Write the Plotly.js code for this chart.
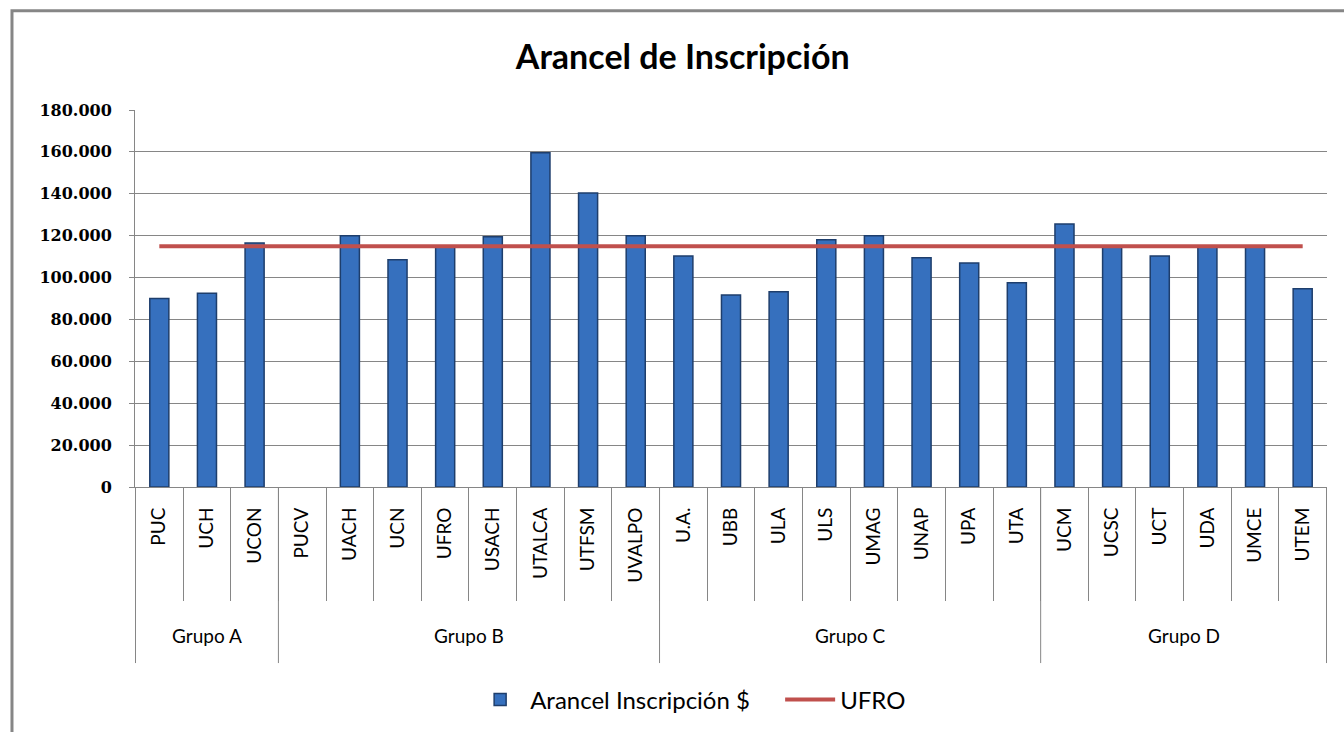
<!DOCTYPE html>
<html>
<head>
<meta charset="utf-8">
<script src="https://cdn.plot.ly/plotly-3.0.1.min.js"></script>
<style>html,body{margin:0;padding:0;background:#fff;}#chart{width:1344px;height:732px;}</style>
</head>
<body>
<div id="chart"></div>
<script>
const groups = ["Grupo A","Grupo A","Grupo A",
  "Grupo B","Grupo B","Grupo B","Grupo B","Grupo B","Grupo B","Grupo B","Grupo B",
  "Grupo C","Grupo C","Grupo C","Grupo C","Grupo C","Grupo C","Grupo C","Grupo C",
  "Grupo D","Grupo D","Grupo D","Grupo D","Grupo D","Grupo D"];
const categories = ["PUC","UCH","UCON",
  "PUCV","UACH","UCN","UFRO","USACH","UTALCA","UTFSM","UVALPO",
  "U.A.","UBB","ULA","ULS","UMAG","UNAP","UPA","UTA",
  "UCM","UCSC","UCT","UDA","UMCE","UTEM"];
const arancel = [90000,92500,116500,
  null,120000,108500,114500,119500,159600,140400,120000,
  110300,91700,93200,118000,120000,109400,107000,97500,
  125600,114500,110300,114800,114800,94600];
const ufro = [115000,115000,115000,
  115000,115000,115000,115000,115000,115000,115000,115000,
  115000,115000,115000,115000,115000,115000,115000,115000,
  115000,115000,115000,115000,115000,115000];
const yTicks = [0,20000,40000,60000,80000,100000,120000,140000,160000,180000];

const gray = '#868686';
const catFont = 'Lato, "Open Sans", sans-serif';

// group spans derived from the groups array
const groupSpans = [];
groups.forEach((g, i) => {
  const last = groupSpans[groupSpans.length - 1];
  if (last && last.name === g) last.end = i;
  else groupSpans.push({name: g, start: i, end: i});
});

const annotations = groupSpans.map(s => ({
  xref: 'x', yref: 'paper',
  x: (s.start + s.end) / 2, y: -0.3926,
  text: s.name, showarrow: false,
  xanchor: 'center', yanchor: 'middle',
  font: {family: catFont, size: 19, color: '#000'}
}));

const shapes = [];
groupSpans.forEach((s, k) => {
  if (k === 0) shapes.push({type: 'line', xref: 'x', yref: 'paper',
    x0: s.start - 0.5, x1: s.start - 0.5, y0: 0, y1: -0.467,
    line: {color: gray, width: 1}});
  shapes.push({type: 'line', xref: 'x', yref: 'paper',
    x0: s.end + 0.5, x1: s.end + 0.5, y0: 0, y1: -0.467,
    line: {color: gray, width: 1}});
});
shapes.push({type: 'rect', xref: 'paper', yref: 'paper',
  x0: -0.1032, x1: 1.05, y0: -0.7, y1: 1.263,
  line: {color: gray, width: 3}, fillcolor: 'rgba(0,0,0,0)', layer: 'below'});

const traces = [
  {
    type: 'bar',
    name: 'Arancel Inscripción $',
    x: categories,
    y: arancel,
    marker: {color: '#3670BE', line: {color: '#1E3E6C', width: 1.5}},
    hoverinfo: 'skip'
  },
  {
    type: 'scatter',
    mode: 'lines',
    name: 'UFRO',
    x: categories,
    y: ufro,
    line: {color: '#C0504D', width: 4},
    hoverinfo: 'skip'
  }
];

const layout = {
  width: 1344, height: 732,
  paper_bgcolor: '#fff', plot_bgcolor: '#fff',
  separators: ',.',
  margin: {l: 135, r: 17, t: 110, b: 245},
  title: {
    text: 'Arancel de Inscripción',
    font: {family: 'Lato, "Open Sans", sans-serif', size: 34, color: '#000', weight: 'bold'},
    x: 0.508, xanchor: 'center', y: 0.922, yanchor: 'middle'
  },
  bargap: 0.6,
  showlegend: true,
  legend: {
    orientation: 'h', xref: 'container', x: 0.3498, xanchor: 'left',
    yref: 'container', y: 0.0437, yanchor: 'middle',
    font: {family: 'Lato, "Open Sans", sans-serif', size: 24, color: '#000'},
    itemwidth: 50, entrywidth: 245, entrywidthmode: 'pixels'
  },
  xaxis: {
    type: 'category',
    tickangle: -90,
    tickfont: {family: catFont, size: 19, color: '#000'},
    ticklabelstandoff: 12,
    showline: true, linecolor: gray, linewidth: 1,
    ticks: 'outside', tickson: 'boundaries', ticklen: 113, tickcolor: gray, tickwidth: 1,
    showgrid: false, zeroline: false
  },
  yaxis: {
    range: [0, 180000],
    tickvals: yTicks,
    tickformat: ',d',
    tickfont: {family: '"DejaVu Serif", serif', size: 16, color: '#000', weight: 'bold'},
    ticklabelstandoff: 14,
    showgrid: true, gridcolor: gray, gridwidth: 1,
    showline: true, linecolor: gray, linewidth: 1,
    ticks: 'outside', ticklen: 5, tickcolor: gray,
    zeroline: true, zerolinecolor: gray, zerolinewidth: 1
  },
  annotations: annotations,
  shapes: shapes
};

Plotly.newPlot('chart', traces, layout, {displayModeBar: false, staticPlot: true});
</script>
</body>
</html>
